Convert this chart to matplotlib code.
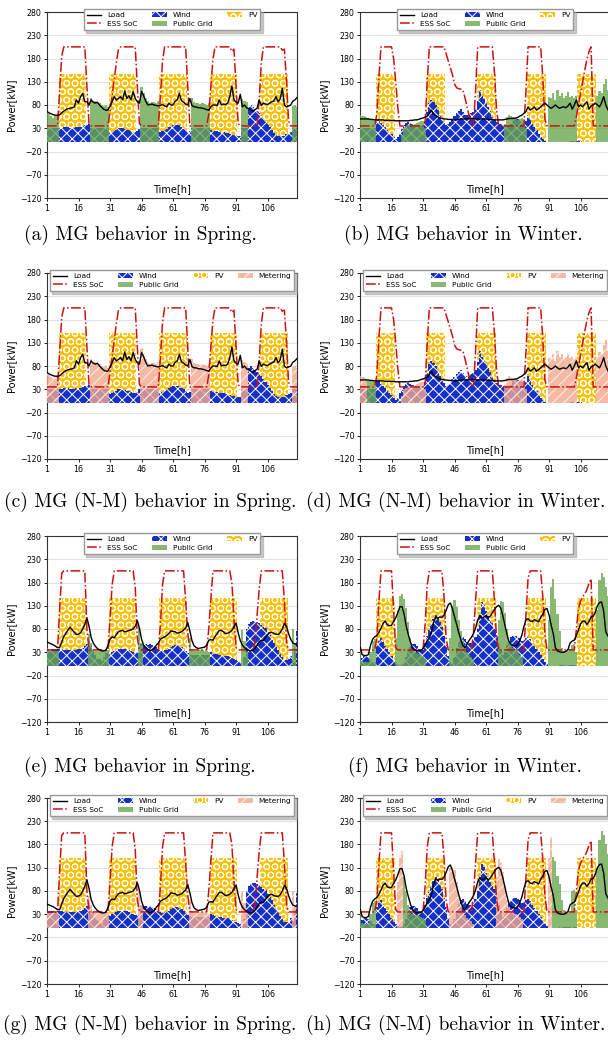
import numpy as np
import matplotlib.pyplot as plt

# hours of the 5-day horizon
hours = np.arange(1, 121)

# ---- spring, scenario 1 : panels (a) and (c) ----
load_sp1 = [66, 63, 61, 59, 58, 58, 59, 63, 67, 70, 72, 73, 74, 76, 91, 84, 98, 105, 87, 87, 80, 91, 86, 84,
            86, 80, 75, 71, 69, 69, 78, 87, 98, 91, 94, 98, 91, 110, 94, 100, 91, 109, 94, 87, 84, 109, 100, 88,
            80, 81, 82, 80, 79, 78, 79, 81, 78, 76, 84, 80, 80, 88, 91, 105, 89, 86, 82, 80, 94, 79, 76, 76,
            74, 74, 73, 72, 70, 69, 76, 80, 80, 79, 91, 80, 82, 81, 84, 98, 121, 91, 86, 84, 103, 76, 80, 74,
            72, 69, 66, 70, 73, 91, 79, 84, 82, 81, 84, 87, 89, 98, 87, 93, 116, 80, 76, 78, 80, 88, 91, 96]
wind_sp1 = [30, 30, 30, 30, 30, 30, 31, 31, 32, 32, 32, 31, 31, 31, 32, 32, 33, 34, 36, 38, 40, 30, 30, 30,
            30, 30, 30, 30, 30, 30, 19, 21, 24, 27, 30, 31, 31, 29, 27, 26, 24, 22, 21, 25, 30, 30, 30, 30,
            30, 30, 30, 30, 30, 30, 22, 24, 26, 29, 32, 35, 37, 38, 38, 36, 33, 30, 26, 23, 25, 30, 30, 30,
            30, 30, 30, 30, 30, 30, 26, 25, 24, 24, 23, 22, 21, 20, 19, 18, 16, 15, 14, 13, 13, 30, 30, 30,
            76, 80, 76, 72, 68, 63, 58, 52, 46, 40, 33, 26, 20, 16, 14, 13, 13, 14, 17, 20, 21, 30, 30, 30]
grid_sp1 = [68, 60, 56, 53, 56, 57, 0, 0, 0, 0, 0, 0, 0, 0, 0, 0, 0, 0, 0, 0, 0, 94, 88, 89,
            86, 84, 80, 78, 80, 76, 0, 0, 0, 0, 0, 0, 0, 0, 0, 0, 0, 0, 0, 0, 0, 118, 106, 95,
            88, 85, 87, 86, 84, 88, 0, 0, 0, 0, 0, 0, 0, 0, 0, 0, 0, 0, 0, 0, 0, 95, 86, 84,
            85, 83, 84, 82, 80, 84, 0, 0, 0, 0, 0, 0, 0, 0, 0, 0, 0, 0, 0, 0, 0, 92, 88, 86,
            0, 0, 0, 0, 0, 0, 0, 0, 0, 0, 0, 0, 0, 0, 0, 0, 0, 0, 0, 0, 0, 78, 80, 76]
ess_sp1 = [35, 35, 35, 35, 35, 35, 110, 185, 205, 205, 205, 205, 205, 205, 205, 205, 205, 205, 205, 120, 40, 35, 35, 35,
           35, 35, 35, 35, 35, 35, 65, 100, 135, 170, 200, 205, 205, 205, 205, 205, 205, 205, 205, 120, 40, 35, 35, 35,
           35, 35, 35, 35, 35, 35, 100, 175, 205, 205, 205, 205, 205, 205, 205, 205, 205, 205, 205, 120, 35, 35, 35, 35,
           35, 35, 35, 35, 35, 60, 120, 180, 205, 205, 205, 205, 205, 205, 205, 205, 195, 200, 120, 40, 35, 35, 35, 35,
           35, 35, 35, 35, 35, 90, 170, 205, 205, 205, 205, 205, 205, 205, 205, 205, 198, 200, 130, 45, 35, 35, 35, 35]

# ---- winter, scenario 1 : panels (b) and (d) ----
load_wi1 = [50, 50, 50, 50, 50, 49, 49, 48, 48, 48, 48, 48, 47, 47, 47, 47, 47, 46, 46, 46, 46, 46, 46, 46,
            47, 47, 48, 48, 49, 51, 52, 54, 56, 62, 69, 60, 57, 55, 52, 51, 50, 50, 49, 49, 48, 48, 48, 49,
            50, 50, 50, 50, 51, 51, 51, 50, 50, 50, 50, 50, 50, 49, 49, 49, 48, 48, 48, 48, 48, 49, 50, 51,
            51, 51, 52, 53, 56, 58, 62, 66, 76, 69, 72, 76, 69, 72, 76, 80, 84, 80, 76, 73, 76, 80, 76, 73,
            75, 76, 74, 78, 84, 71, 80, 91, 76, 80, 76, 82, 87, 71, 78, 80, 84, 80, 76, 85, 98, 80, 70, 62]
wind_wi1 = [30, 30, 30, 30, 30, 30, 30, 30, 48, 47, 42, 37, 32, 26, 21, 17, 12, 6, 12, 22, 28, 38, 42, 43,
            42, 40, 38, 36, 35, 34, 35, 45, 66, 85, 91, 87, 80, 69, 58, 48, 43, 38, 39, 44, 51, 56, 62, 68,
            71, 64, 59, 58, 61, 62, 64, 72, 88, 112, 100, 93, 85, 75, 68, 55, 48, 44, 40, 39, 38, 38, 36, 36,
            40, 48, 50, 50, 48, 45, 40, 45, 58, 50, 40, 33, 26, 18, 12, 7, 3, 0, 0, 0, 0, 0, 0, 0,
            0, 0, 0, 0, 2, 2, 2, 2, 2, 2, 0, 0, 0, 0, 0, 0, 0, 0, 0, 0, 0, 0, 0, 0]
grid_wi1 = [58, 57, 56, 55, 52, 50, 48, 46, 0, 0, 0, 0, 0, 0, 0, 0, 0, 0, 0, 0, 15, 30, 33, 35,
            36, 38, 40, 42, 44, 46, 46, 30, 0, 0, 0, 0, 0, 0, 0, 0, 0, 0, 0, 0, 0, 0, 0, 0,
            0, 0, 0, 0, 0, 0, 0, 0, 0, 0, 0, 0, 0, 0, 0, 0, 0, 0, 0, 0, 0, 40, 55, 58,
            57, 55, 52, 48, 50, 52, 50, 30, 0, 0, 0, 0, 0, 0, 0, 0, 0, 0, 98, 94, 105, 91, 112, 100,
            105, 94, 100, 109, 98, 100, 94, 100, 0, 0, 0, 0, 0, 0, 0, 0, 0, 100, 110, 105, 125, 135, 112, 108]
grid_wi1_nm = [0, 0, 0, 0, 50, 48, 47, 46, 0, 0, 0, 0, 0, 0, 0, 0, 0, 0, 0, 0, 0, 0, 0, 0,
               0, 0, 0, 0, 0, 0, 0, 0, 0, 0, 0, 0, 0, 0, 0, 0, 0, 0, 0, 0, 0, 0, 0, 0,
               0, 0, 0, 0, 0, 0, 0, 0, 0, 0, 0, 0, 0, 0, 0, 0, 0, 0, 0, 0, 0, 0, 0, 0,
               0, 0, 0, 0, 0, 0, 0, 0, 0, 0, 0, 0, 0, 0, 0, 0, 0, 0, 0, 0, 0, 0, 0, 0,
               0, 0, 0, 0, 0, 0, 0, 0, 0, 0, 0, 0, 0, 0, 0, 0, 0, 0, 0, 0, 0, 0, 0, 0]
metering_wi1_nm = [58, 57, 56, 55, 0, 0, 0, 0, 0, 0, 0, 0, 0, 0, 0, 0, 0, 0, 0, 0, 15, 30, 33, 35,
                   36, 38, 40, 42, 44, 46, 46, 30, 0, 0, 0, 0, 0, 0, 0, 0, 0, 0, 0, 0, 0, 0, 0, 0,
                   0, 0, 0, 0, 0, 0, 0, 0, 0, 0, 0, 0, 0, 0, 0, 0, 0, 0, 0, 0, 0, 40, 55, 58,
                   57, 55, 52, 48, 50, 52, 50, 30, 0, 0, 0, 0, 0, 0, 0, 0, 0, 0, 98, 94, 105, 91, 112, 100,
                   105, 94, 100, 109, 98, 100, 94, 100, 0, 0, 0, 0, 0, 0, 0, 0, 0, 100, 110, 105, 125, 135, 112, 108]
ess_wi1 = [35, 35, 35, 35, 35, 35, 35, 35, 60, 140, 205, 205, 205, 205, 205, 205, 180, 130, 75, 35, 35, 35, 35, 35,
           35, 35, 35, 35, 35, 35, 35, 40, 130, 205, 205, 205, 205, 205, 205, 205, 205, 190, 175, 160, 145, 125, 117, 115,
           114, 112, 95, 75, 55, 40, 36, 110, 205, 205, 205, 205, 205, 205, 205, 205, 150, 70, 35, 35, 35, 35, 35, 35,
           35, 35, 35, 35, 35, 35, 35, 110, 205, 205, 205, 205, 205, 205, 205, 140, 50, 35, 35, 35, 35, 35, 35, 35,
           35, 35, 35, 35, 35, 35, 35, 55, 80, 105, 130, 155, 178, 195, 205, 35, 35, 35, 35, 35, 35, 35, 35, 35]

# ---- spring, scenario 2 : panels (e) and (g) ----
load_sp2 = [52, 50, 48, 46, 43, 40, 40, 52, 64, 71, 78, 84, 78, 73, 68, 69, 72, 80, 90, 104, 86, 62, 50, 43,
            38, 35, 33, 33, 34, 44, 58, 63, 61, 68, 74, 76, 77, 74, 75, 77, 78, 80, 86, 98, 82, 58, 45, 40,
            36, 33, 35, 38, 45, 50, 58, 61, 63, 66, 70, 76, 75, 74, 71, 72, 74, 78, 82, 94, 76, 55, 44, 40,
            38, 39, 40, 41, 45, 56, 57, 56, 64, 70, 77, 77, 74, 70, 71, 73, 77, 85, 93, 72, 55, 45, 40, 36,
            34, 33, 34, 38, 45, 53, 56, 55, 62, 68, 72, 73, 70, 69, 68, 72, 80, 92, 86, 70, 58, 50, 48, 46]
wind_sp2 = [40, 38, 37, 36, 36, 37, 38, 36, 35, 34, 34, 34, 35, 35, 35, 36, 37, 40, 44, 48, 55, 45, 35, 25,
            18, 15, 12, 20, 28, 32, 27, 30, 33, 35, 36, 36, 37, 38, 36, 35, 33, 31, 29, 28, 28, 48, 47, 48,
            46, 48, 46, 44, 42, 38, 35, 33, 34, 35, 38, 41, 44, 45, 45, 44, 42, 38, 33, 29, 27, 25, 25, 25,
            25, 25, 25, 25, 25, 25, 31, 29, 27, 26, 25, 24, 23, 22, 21, 20, 18, 16, 14, 12, 10, 0, 20, 80,
            90, 95, 97, 98, 95, 92, 88, 84, 82, 74, 68, 60, 50, 42, 35, 27, 20, 14, 13, 15, 22, 15, 40, 75]
grid_sp2 = [33, 33, 33, 33, 33, 33, 0, 0, 0, 0, 0, 0, 0, 0, 0, 0, 0, 0, 0, 0, 70, 50, 35, 32,
            32, 33, 33, 34, 34, 34, 0, 0, 0, 0, 0, 0, 0, 0, 0, 0, 0, 0, 0, 0, 85, 50, 0, 0,
            0, 0, 0, 0, 0, 0, 0, 0, 0, 0, 0, 0, 0, 0, 0, 0, 0, 0, 0, 0, 60, 36, 33, 33,
            34, 34, 34, 33, 32, 30, 0, 0, 0, 0, 0, 0, 0, 0, 0, 0, 0, 0, 0, 0, 0, 78, 55, 30,
            0, 0, 0, 0, 0, 0, 0, 0, 0, 0, 0, 0, 0, 0, 0, 0, 0, 0, 0, 0, 0, 80, 50, 0]
ess_sp2 = [35, 35, 35, 35, 35, 35, 120, 200, 205, 205, 205, 205, 205, 205, 205, 205, 205, 205, 205, 80, 35, 35, 35, 35,
           35, 35, 35, 35, 35, 35, 100, 175, 205, 205, 205, 205, 205, 205, 205, 205, 205, 205, 170, 60, 35, 35, 35, 35,
           35, 35, 35, 35, 35, 35, 90, 175, 205, 205, 205, 205, 205, 205, 205, 205, 205, 205, 140, 70, 35, 35, 35, 35,
           35, 35, 35, 35, 35, 80, 145, 205, 205, 205, 205, 205, 205, 205, 205, 205, 180, 100, 40, 35, 35, 35, 35, 35,
           35, 35, 35, 50, 110, 165, 205, 205, 205, 205, 205, 205, 205, 205, 205, 205, 205, 140, 50, 35, 35, 35, 35, 35]

# ---- winter, scenario 2 : panels (f) and (h) ----
load_wi2 = [43, 25, 23, 23, 25, 45, 58, 63, 66, 73, 82, 92, 97, 89, 87, 88, 96, 104, 115, 128, 128, 112, 86, 68,
            52, 40, 35, 33, 33, 34, 38, 46, 55, 62, 72, 94, 106, 103, 106, 105, 110, 120, 132, 136, 124, 106, 90, 72,
            57, 44, 40, 48, 56, 62, 70, 82, 99, 109, 103, 106, 109, 104, 108, 115, 122, 128, 131, 125, 108, 88, 68, 52,
            46, 44, 43, 46, 55, 66, 85, 100, 102, 97, 96, 100, 98, 95, 105, 112, 122, 124, 110, 88, 70, 40, 33, 31,
            30, 30, 32, 36, 50, 54, 56, 66, 78, 91, 97, 97, 90, 96, 106, 107, 116, 130, 137, 138, 118, 74, 65, 60]
wind_wi2 = [10, 18, 22, 22, 20, 15, 10, 10, 45, 55, 60, 52, 44, 38, 30, 22, 14, 9, 5, 2, 5, 10, 20, 35,
            45, 48, 47, 44, 38, 33, 35, 50, 65, 78, 90, 102, 110, 106, 96, 84, 65, 45, 22, 8, 5, 20, 40, 55,
            60, 62, 58, 52, 50, 50, 54, 62, 80, 110, 138, 132, 118, 108, 100, 92, 84, 68, 50, 35, 25, 30, 45, 55,
            62, 64, 64, 63, 60, 55, 55, 60, 62, 58, 50, 44, 38, 30, 24, 16, 9, 4, 0, 0, 0, 0, 0, 3,
            3, 3, 3, 3, 3, 3, 3, 3, 0, 0, 0, 0, 0, 0, 0, 0, 0, 0, 0, 0, 0, 0, 0, 0]
grid_wi2 = [45, 12, 10, 10, 10, 30, 55, 58, 0, 0, 0, 0, 0, 0, 0, 0, 0, 60, 120, 152, 155, 145, 125, 95,
            60, 35, 30, 28, 26, 25, 22, 18, 0, 0, 0, 0, 0, 0, 0, 0, 0, 0, 0, 60, 130, 142, 128, 100,
            75, 55, 40, 30, 25, 20, 15, 0, 0, 0, 0, 0, 0, 0, 0, 0, 0, 0, 100, 140, 138, 115, 80, 55,
            45, 40, 35, 30, 25, 20, 0, 0, 0, 0, 0, 0, 0, 0, 0, 0, 0, 0, 100, 170, 188, 145, 113, 75,
            40, 33, 32, 33, 38, 45, 48, 30, 0, 0, 0, 0, 0, 0, 0, 0, 0, 120, 185, 200, 192, 170, 150, 140]
grid_wi2_nm = [45, 12, 10, 10, 10, 30, 55, 58, 0, 0, 0, 0, 0, 0, 0, 0, 0, 0, 0, 0, 0, 110, 80, 50,
               35, 30, 28, 28, 26, 25, 22, 18, 0, 0, 0, 0, 0, 0, 0, 0, 0, 0, 0, 0, 0, 0, 0, 0,
               0, 0, 0, 0, 0, 0, 0, 0, 0, 0, 0, 0, 0, 0, 0, 0, 0, 0, 0, 0, 0, 0, 0, 0,
               0, 0, 0, 0, 0, 0, 0, 0, 0, 0, 0, 0, 0, 0, 0, 0, 0, 0, 0, 0, 154, 145, 113, 95,
               60, 40, 35, 33, 35, 80, 82, 40, 0, 0, 0, 0, 0, 0, 0, 0, 0, 130, 190, 210, 200, 180, 160, 150]
metering_wi2_nm = [0, 0, 0, 0, 0, 0, 0, 0, 0, 0, 0, 0, 0, 0, 0, 0, 0, 0, 100, 150, 165, 0, 0, 0,
                   0, 0, 0, 0, 0, 0, 0, 0, 0, 0, 0, 0, 0, 0, 0, 0, 0, 0, 0, 130, 132, 125, 100, 70,
                   50, 35, 28, 22, 18, 15, 10, 0, 0, 0, 0, 0, 0, 0, 0, 0, 0, 110, 148, 140, 120, 90, 60, 45,
                   35, 33, 30, 28, 25, 20, 0, 0, 0, 0, 0, 0, 0, 0, 0, 0, 0, 0, 150, 197, 0, 0, 0, 0,
                   0, 0, 0, 0, 0, 0, 0, 0, 0, 0, 0, 0, 0, 0, 0, 0, 0, 0, 0, 0, 0, 0, 0, 0]
ess_wi2 = [35, 35, 35, 35, 35, 35, 35, 35, 60, 140, 205, 205, 205, 205, 205, 205, 120, 40, 35, 35, 35, 35, 35, 35,
           35, 35, 35, 35, 35, 35, 35, 90, 175, 205, 205, 205, 205, 205, 205, 205, 150, 60, 35, 35, 35, 35, 35, 35,
           35, 35, 35, 35, 35, 35, 70, 140, 205, 205, 205, 205, 205, 205, 205, 205, 140, 60, 35, 35, 35, 35, 35, 35,
           35, 35, 35, 35, 35, 35, 35, 110, 190, 205, 205, 205, 205, 205, 205, 150, 70, 35, 35, 35, 35, 35, 35, 35,
           35, 35, 35, 35, 35, 35, 35, 80, 125, 140, 150, 155, 165, 178, 188, 35, 35, 35, 35, 35, 35, 35, 35, 35]

# ---- PV output (spring day 7-19h, winter day 9-17h) ----
pv_spring = [0, 0, 0, 0, 0, 0, 146, 146, 146, 146, 146, 146, 146, 146, 146, 146, 146, 146, 146, 0, 0, 0, 0, 0,
             0, 0, 0, 0, 0, 0, 146, 146, 146, 146, 146, 146, 146, 146, 146, 146, 146, 146, 146, 0, 0, 0, 0, 0,
             0, 0, 0, 0, 0, 0, 146, 146, 146, 146, 146, 146, 146, 146, 146, 146, 146, 146, 146, 0, 0, 0, 0, 0,
             0, 0, 0, 0, 0, 0, 146, 146, 146, 146, 146, 146, 146, 146, 146, 146, 146, 146, 146, 0, 0, 0, 0, 0,
             0, 0, 0, 0, 0, 0, 146, 146, 146, 146, 146, 146, 146, 146, 146, 146, 146, 146, 146, 0, 0, 0, 0, 0]
pv_spring_nm = [0, 0, 0, 0, 0, 0, 150, 150, 150, 150, 150, 150, 150, 150, 150, 150, 150, 150, 150, 0, 0, 0, 0, 0,
                0, 0, 0, 0, 0, 0, 150, 150, 150, 150, 150, 150, 150, 150, 150, 150, 150, 150, 150, 0, 0, 0, 0, 0,
                0, 0, 0, 0, 0, 0, 150, 150, 150, 150, 150, 150, 150, 150, 150, 150, 150, 150, 150, 0, 0, 0, 0, 0,
                0, 0, 0, 0, 0, 0, 150, 150, 150, 150, 150, 150, 150, 150, 150, 150, 150, 150, 150, 0, 0, 0, 0, 0,
                0, 0, 0, 0, 0, 0, 150, 150, 150, 150, 150, 150, 150, 150, 150, 150, 150, 150, 150, 0, 0, 0, 0, 0]
pv_winter = [0, 0, 0, 0, 0, 0, 0, 0, 146, 146, 146, 146, 146, 146, 146, 146, 146, 0, 0, 0, 0, 0, 0, 0,
             0, 0, 0, 0, 0, 0, 0, 0, 146, 146, 146, 146, 146, 146, 146, 146, 146, 0, 0, 0, 0, 0, 0, 0,
             0, 0, 0, 0, 0, 0, 0, 0, 146, 146, 146, 146, 146, 146, 146, 146, 146, 0, 0, 0, 0, 0, 0, 0,
             0, 0, 0, 0, 0, 0, 0, 0, 146, 146, 146, 146, 146, 146, 146, 146, 146, 0, 0, 0, 0, 0, 0, 0,
             0, 0, 0, 0, 0, 0, 0, 0, 146, 146, 146, 146, 146, 146, 146, 146, 146, 0, 0, 0, 0, 0, 0, 0]
pv_winter_nm = [0, 0, 0, 0, 0, 0, 0, 0, 150, 150, 150, 150, 150, 150, 150, 150, 150, 0, 0, 0, 0, 0, 0, 0,
                0, 0, 0, 0, 0, 0, 0, 0, 150, 150, 150, 150, 150, 150, 150, 150, 150, 0, 0, 0, 0, 0, 0, 0,
                0, 0, 0, 0, 0, 0, 0, 0, 150, 150, 150, 150, 150, 150, 150, 150, 150, 0, 0, 0, 0, 0, 0, 0,
                0, 0, 0, 0, 0, 0, 0, 0, 150, 150, 150, 150, 150, 150, 150, 150, 150, 0, 0, 0, 0, 0, 0, 0,
                0, 0, 0, 0, 0, 0, 0, 0, 150, 150, 150, 150, 150, 150, 150, 150, 150, 0, 0, 0, 0, 0, 0, 0]

xticks = [1, 16, 31, 46, 61, 76, 91, 106]
yticks = [-120, -70, -20, 30, 80, 130, 180, 230, 280]

C_WIND = '#1530c8'
C_PV = '#ffc000'
C_GRID = '#6aa84f'
C_MET = '#f4a88e'
C_ESS = '#cc1111'

plt.rcParams['hatch.linewidth'] = 0.7


def draw_panel(ax, load, wind, pv, ess, grid, metering=None):
    p_pv = ax.fill_between(hours, 0, pv, step='mid', facecolor=C_PV, edgecolor='white',
                           hatch='OO', linewidth=0, zorder=2)
    p_wind = ax.fill_between(hours, 0, wind, step='mid', facecolor=C_WIND, edgecolor='white',
                             hatch='xxx', linewidth=0, zorder=3)
    p_grid = ax.fill_between(hours, 0, grid, step='mid', facecolor=C_GRID, alpha=0.8,
                             linewidth=0, zorder=4)
    l_ess, = ax.plot(hours, ess, '-.', color=C_ESS, lw=1.1, zorder=5)
    l_load, = ax.plot(hours, load, '-', color='black', lw=1.0, zorder=6)
    handles = [l_load, l_ess, p_wind, p_grid, p_pv]
    labels = ['Load', 'ESS SoC', 'Wind', 'Public Grid', 'PV']
    if metering is not None:
        p_met = ax.fill_between(hours, 0, metering, step='mid', facecolor=C_MET, edgecolor='white',
                                hatch='///', alpha=0.8, linewidth=0, zorder=4)
        handles.append(p_met)
        labels.append('Metering')

    ax.set_xlim(1, 120)
    ax.set_ylim(-120, 280)
    ax.set_xticks(xticks)
    ax.set_yticks(yticks)
    ax.tick_params(labelsize=5.7, length=2.5, width=0.6, pad=1.5)
    ax.yaxis.grid(True, color='#e2e2e2', lw=0.8)
    ax.set_axisbelow(True)
    for s in ax.spines.values():
        s.set_color('#333333')
        s.set_linewidth(0.8)
    ax.set_ylabel('Power[kW]', fontsize=7, labelpad=3)
    ax.set_xlabel('Time[h]', fontsize=7)
    ax.xaxis.set_label_coords(0.5, 0.075)
    ax.legend(handles, labels, loc='upper center', bbox_to_anchor=(0.5, 1.035),
              ncol=4 if metering is not None else 3, fontsize=5.3, frameon=True,
              fancybox=False, shadow={'color': '0.6', 'alpha': 0.5}, framealpha=1,
              edgecolor='0.6', borderpad=0.4, labelspacing=0.35, handlelength=2.0,
              columnspacing=2.0)


fig = plt.figure(figsize=(6.08, 10.40), dpi=100)
W, H = 608.0, 1040.0


def axes_at(x, top):
    return fig.add_axes([x / W, 1 - (top + 186) / H, 250 / W, 186 / H])


panels = [
    (47, 12, (load_sp1, wind_sp1, pv_spring, ess_sp1, grid_sp1, None),
     '(a) MG behavior in Spring.', 140, 235),
    (360, 12, (load_wi1, wind_wi1, pv_winter, ess_wi1, grid_wi1, None),
     '(b) MG behavior in Winter.', 463, 235),
    (47, 273, (load_sp1, wind_sp1, pv_spring_nm, ess_sp1, [0] * 120, grid_sp1),
     '(c) MG (N-M) behavior in Spring.', 150, 502),
    (360, 273, (load_wi1, wind_wi1, pv_winter_nm, ess_wi1, grid_wi1_nm, metering_wi1_nm),
     '(d) MG (N-M) behavior in Winter.', 456, 502),
    (47, 536, (load_sp2, wind_sp2, pv_spring, ess_sp2, grid_sp2, None),
     '(e) MG behavior in Spring.', 140, 767),
    (360, 536, (load_wi2, wind_wi2, pv_winter, ess_wi2, grid_wi2, None),
     '(f) MG behavior in Winter.', 465, 767),
    (47, 798, (load_sp2, wind_sp2, pv_spring_nm, ess_sp2, [0] * 120, grid_sp2),
     '(g) MG (N-M) behavior in Spring.', 150, 1025),
    (360, 798, (load_wi2, wind_wi2, pv_winter_nm, ess_wi2, grid_wi2_nm, metering_wi2_nm),
     '(h) MG (N-M) behavior in Winter.', 456, 1025),
]

for x, top, data, caption, cx, cy in panels:
    ax = axes_at(x, top)
    draw_panel(ax, *data)
    fig.text(cx / W, 1 - cy / H, caption, ha='center', va='center',
             fontsize=14, family='cmr10')

fig.savefig('out.png', dpi=100)
